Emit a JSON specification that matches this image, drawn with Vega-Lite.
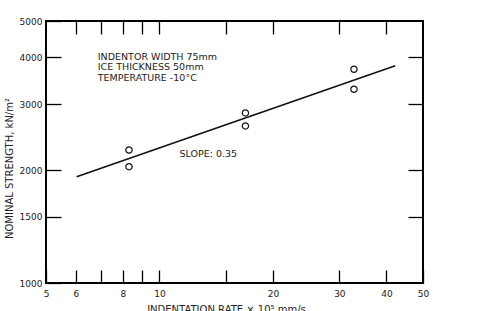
{
  "$schema": "https://vega.github.io/schema/vega-lite/v6.json",
  "width": 377,
  "height": 262,
  "autosize": "none",
  "padding": {"left": 46, "top": 21, "right": 60, "bottom": 28},
  "background": "white",
  "config": {
    "font": "DejaVu Sans",
    "view": {"stroke": "black", "strokeWidth": 2},
    "axis": {
      "grid": false,
      "domain": false,
      "tickColor": "black",
      "tickWidth": 1.3,
      "labelColor": "#222",
      "labelFont": "DejaVu Sans",
      "labelFontSize": 9,
      "titleFont": "DejaVu Sans",
      "titleFontSize": 10,
      "titleFontWeight": "normal",
      "titleColor": "#222",
      "labelFlush": false,
      "labelOverlap": false
    }
  },
  "datasets": {
    "points": [
      {"rate": 8.3, "strength": 2264},
      {"rate": 8.3, "strength": 2043},
      {"rate": 16.9, "strength": 2842},
      {"rate": 16.9, "strength": 2624},
      {"rate": 32.8, "strength": 3717},
      {"rate": 32.8, "strength": 3287}
    ],
    "fit": [
      {"rate": 6.03, "strength": 1921},
      {"rate": 42.2, "strength": 3800}
    ],
    "notes": [
      {"rate": 6.86, "strength": 4009, "text": "INDENTOR WIDTH 75mm"},
      {"rate": 6.86, "strength": 3758, "text": "ICE THICKNESS 50mm"},
      {"rate": 6.86, "strength": 3524, "text": "TEMPERATURE -10°C"},
      {"rate": 11.3, "strength": 2210, "text": "SLOPE: 0.35"}
    ]
  },
  "layer": [
    {
      "encoding": {
        "x": {
          "field": "rate", "type": "quantitative",
          "scale": {"type": "log", "domain": [5, 50], "nice": false, "zero": false},
          "axis": {
            "orient": "bottom",
            "values": [5, 6, 7, 8, 9, 10, 15, 20, 30, 40, 50],
            "labelExpr": "indexof([7, 9, 15], datum.value) >= 0 ? '' : format(datum.value, 'd')",
            "tickSize": -13,
            "labelPadding": 19,
            "title": "INDENTATION RATE × 10⁵ mm/s",
            "titlePadding": 6,
            "titleX": 180
          }
        },
        "y": {
          "field": "strength", "type": "quantitative",
          "scale": {"type": "log", "domain": [1000, 5000], "nice": false, "zero": false},
          "axis": {
            "orient": "left",
            "values": [1000, 1500, 2000, 3000, 4000, 5000],
            "labelExpr": "format(datum.value, 'd')",
            "tickSize": -15,
            "labelPadding": 19,
            "title": "NOMINAL STRENGTH, kN/m²",
            "titlePadding": 5,
            "titleY": 147
          }
        }
      },
      "layer": [
        {
          "data": {"name": "fit"},
          "mark": {"type": "line", "color": "#111", "strokeWidth": 1.6}
        },
        {
          "data": {"name": "points"},
          "mark": {"type": "point", "shape": "circle", "filled": false, "color": "#111", "size": 40, "strokeWidth": 1.2, "opacity": 1}
        },
        {
          "data": {"name": "notes"},
          "mark": {"type": "text", "align": "left", "baseline": "middle", "fontSize": 9.5, "color": "#222", "font": "DejaVu Sans"},
          "encoding": {"text": {"field": "text"}}
        }
      ]
    },
    {
      "data": {"name": "points"},
      "mark": {"type": "point", "opacity": 0},
      "encoding": {
        "x": {
          "field": "rate", "type": "quantitative",
          "scale": {"type": "log", "domain": [5, 50], "nice": false, "zero": false},
          "axis": {
            "orient": "top",
            "values": [6, 7, 8, 9, 10, 15, 20, 30, 40],
            "labels": false,
            "tickSize": -13,
            "title": null
          }
        },
        "y": {
          "field": "strength", "type": "quantitative",
          "scale": {"type": "log", "domain": [1000, 5000], "nice": false, "zero": false},
          "axis": {
            "orient": "right",
            "values": [1500, 2000, 3000, 4000],
            "labels": false,
            "tickSize": -15,
            "title": null
          }
        }
      }
    }
  ],
  "resolve": {"axis": {"x": "independent", "y": "independent"}}
}
